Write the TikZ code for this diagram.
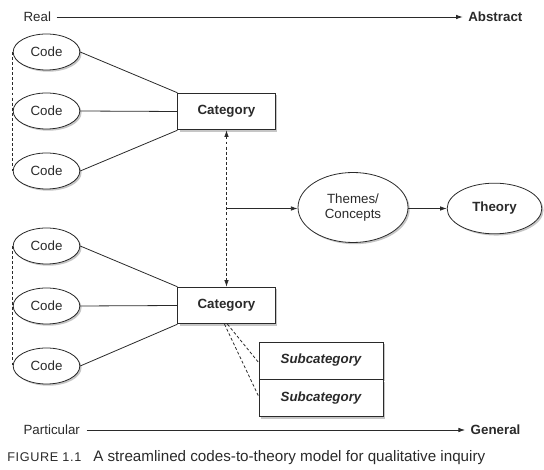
\documentclass[tikz,border=0pt]{standalone}
\usepackage{fontspec}
\setmainfont{Liberation Sans}
\usetikzlibrary{arrows.meta,shadows,calc,shapes.geometric}
\definecolor{ink}{HTML}{2A2A2A}
\definecolor{shade}{HTML}{B8B8B8}
\tikzset{
  base/.style={draw=ink,line width=0.6pt,fill=white,text=ink,font=\fontsize{10}{12}\selectfont,
    drop shadow={shadow xshift=1.3pt,shadow yshift=-1.3pt,fill=shade,opacity=0.8}},
  codeel/.style={base,ellipse,minimum width=50pt,minimum height=27pt,inner sep=0pt},
  catbox/.style={base,rectangle,minimum width=73pt,minimum height=27.5pt,inner sep=0pt,font=\fontsize{10}{12}\selectfont\bfseries},
  subbox/.style={base,rectangle,minimum width=93pt,minimum height=27.75pt,inner sep=0pt,font=\fontsize{10}{12}\selectfont\bfseries\itshape},
  link/.style={draw=ink,line width=0.6pt},
  dlink/.style={draw=ink,line width=0.6pt,dash pattern=on 2.2pt off 1.6pt},
  arr/.style={-{Latex[length=5pt,width=3.4pt]}},
  axislabel/.style={text=ink,font=\fontsize{10}{12}\selectfont,inner sep=1pt},
}
\begin{document}
\begin{tikzpicture}[x=0.75pt,y=-0.75pt]
\useasboundingbox (0,0) rectangle (544,470);
% axes
\node[axislabel,anchor=west] (real) at (22,17) {Real};
\node[axislabel,anchor=east,font=\fontsize{10}{12}\selectfont\bfseries] (abstract) at (524,17) {Abstract};
\draw[link,arr] (real.east) ++(4,0) coordinate (r0) -- ($(abstract.west)+(-4,0)$) coordinate (r1);
\node[axislabel,anchor=west] (part) at (22,430) {Particular};
\node[axislabel,anchor=east,font=\fontsize{10}{12}\selectfont\bfseries] (general) at (522,430) {General};
\draw[link,arr] (part.east) ++(5,0) coordinate (p0) -- ($(general.west)+(-4,0)$) coordinate (p1);
% top group
\node[codeel] (c1) at (46.5,52) {Code};
\node[codeel] (c2) at (46.5,111) {Code};
\node[codeel] (c3) at (46.5,171) {Code};
\node[catbox] (cat1) at (226.5,111.5) {Category};
\draw[link] (c1.east) -- (cat1.north west);
\draw[link] (c2.east) -- (cat1.west);
\draw[link] (c3.east) -- (cat1.south west);
\draw[dlink] (c1.west) -- (c3.west);
% bottom group
\node[codeel] (c4) at (46.5,246) {Code};
\node[codeel] (c5) at (46.5,306) {Code};
\node[codeel] (c6) at (46.5,366) {Code};
\node[catbox] (cat2) at (226.5,305.5) {Category};
\draw[link] (c4.east) -- (cat2.north west);
\draw[link] (c5.east) -- (cat2.west);
\draw[link] (c6.east) -- (cat2.south west);
\draw[dlink] (c4.west) -- (c6.west);
% subcategories
\node[subbox] (s1) at (321,360.5) {Subcategory};
\node[subbox,anchor=north] (s2) at (s1.south) {Subcategory};
\draw[dlink] ($(cat2.south)+(1,0)$) -- ($(s1.west)+(0,2)$);
\draw[dlink] ($(cat2.south)+(-2,0)$) -- ($(s2.west)+(0,-2)$);
% themes and theory
\node[base,ellipse,minimum width=82.5pt,minimum height=52.5pt,inner sep=0pt,align=center] (themes) at (353,207.5) {Themes/\\[-1pt]Concepts};
\node[base,ellipse,minimum width=71pt,minimum height=38pt,inner sep=0pt,font=\fontsize{10}{12}\selectfont\bfseries] (theory) at (494.5,208.5) {Theory};
\draw[dlink,{Latex[length=5pt,width=3.4pt]}-{Latex[length=5pt,width=3.4pt]}] (cat1.south) -- (cat2.north);
\coordinate (j) at (cat1.south |- theory.west);
\draw[link,arr] (j) -- (j -| themes.west);
\draw[link,arr] (themes.east |- theory.west) -- (theory.west);
% caption
\node[anchor=base west,text=ink,inner sep=0pt,font=\fontsize{9.5}{11}\selectfont\addfontfeatures{LetterSpace=5}] (figlab) at (7,462) {FIGURE 1.1};
\node[anchor=base west,text=ink,inner sep=0pt,font=\fontsize{11.4}{13}\selectfont] (cap) at (93,462) {A streamlined codes-to-theory model for qualitative inquiry};
\end{tikzpicture}
\end{document}
